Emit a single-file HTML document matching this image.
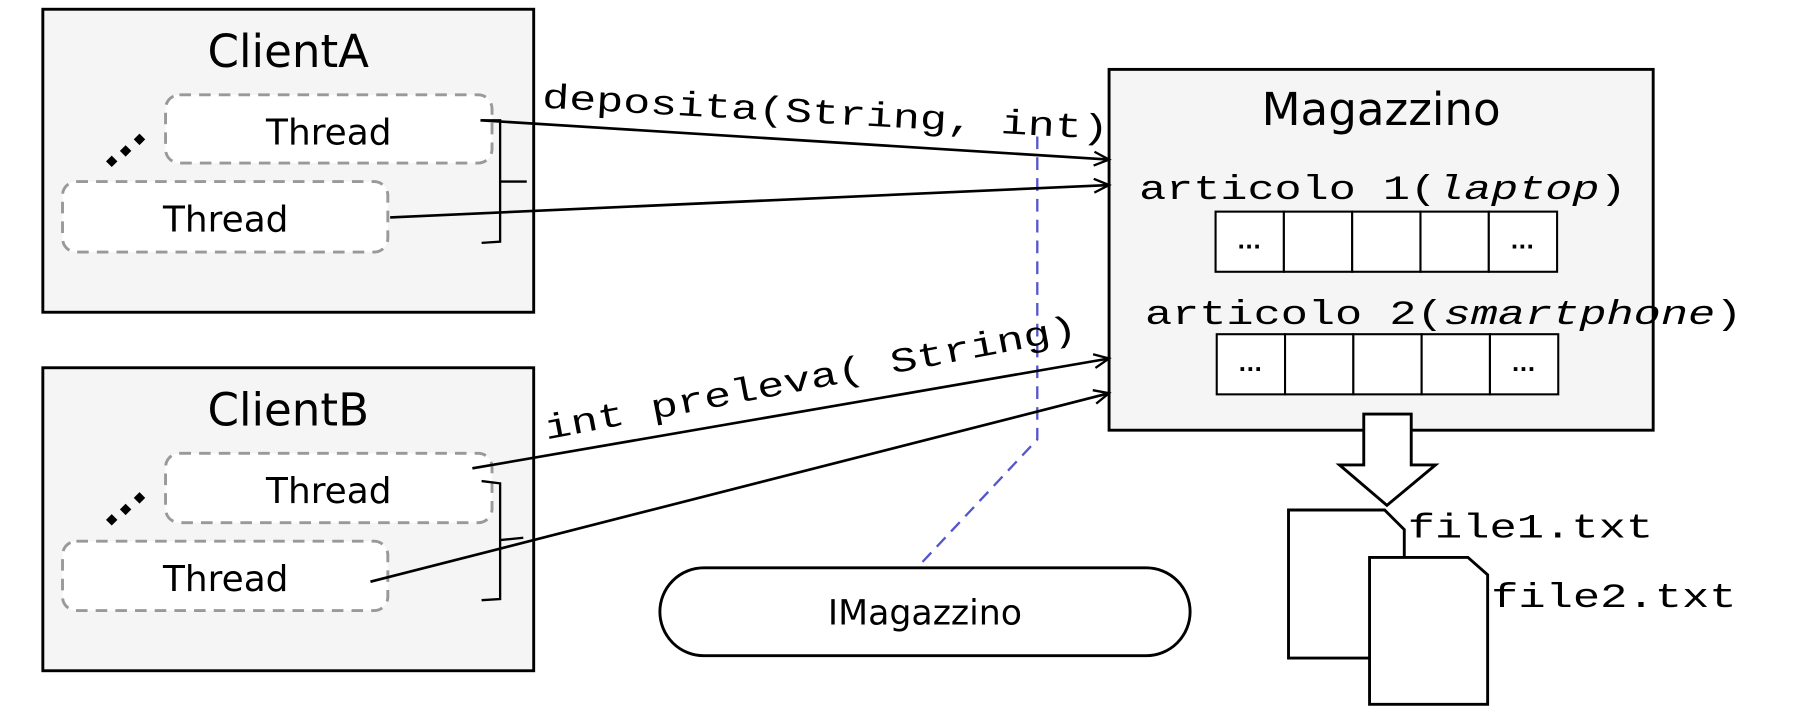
<!DOCTYPE html>
<html><head><meta charset="utf-8"><style>
html,body{margin:0;padding:0;background:#fff;}
svg{display:block;}
.sans{font-family:"DejaVu Sans","Liberation Sans",sans-serif;}
.mono{font-family:"Liberation Mono","DejaVu Sans Mono",monospace;}
</style></head><body>
<svg width="1806" height="717" viewBox="0 0 1560 620" preserveAspectRatio="none" xmlns="http://www.w3.org/2000/svg">
<defs>
<marker id="ah" markerWidth="16" markerHeight="14" refX="14" refY="7" orient="auto" markerUnits="userSpaceOnUse">
<path d="M1,1 L14,7 L1,13" fill="none" stroke="#000" stroke-width="2"/>
</marker>
</defs>
<!-- ClientA -->
<rect x="37" y="8" width="424" height="262" fill="#f5f5f5" stroke="#000" stroke-width="2.5"/>
<text class="sans" x="249" y="58" font-size="39" text-anchor="middle">ClientA</text>
<rect x="143" y="82" width="282" height="59" rx="12" fill="#fff" stroke="#999" stroke-width="2.5" stroke-dasharray="10,7"/>
<text class="sans" x="284" y="125" font-size="31" text-anchor="middle">Thread</text>
<rect x="54" y="157" width="281" height="61" rx="12" fill="#fff" stroke="#999" stroke-width="2.5" stroke-dasharray="10,7"/>
<text class="sans" x="195" y="200" font-size="31" text-anchor="middle">Thread</text>
<g fill="#000"><rect x="93" y="136" width="7" height="7" transform="rotate(45 96.5 139.5)"/><rect x="105" y="127" width="7" height="7" transform="rotate(45 108.5 130.5)"/><rect x="117" y="117" width="7" height="7" transform="rotate(45 120.5 120.5)"/></g>
<path d="M416,104 L432,104 L432,209 L416,210 M432,157 L455,157" fill="none" stroke="#000" stroke-width="2"/>
<!-- ClientB -->
<rect x="37" y="318" width="424" height="262" fill="#f5f5f5" stroke="#000" stroke-width="2.5"/>
<text class="sans" x="249" y="368" font-size="39" text-anchor="middle">ClientB</text>
<rect x="143" y="392" width="282" height="60" rx="12" fill="#fff" stroke="#999" stroke-width="2.5" stroke-dasharray="10,7"/>
<text class="sans" x="284" y="435" font-size="31" text-anchor="middle">Thread</text>
<rect x="54" y="468" width="281" height="60" rx="12" fill="#fff" stroke="#999" stroke-width="2.5" stroke-dasharray="10,7"/>
<text class="sans" x="195" y="511" font-size="31" text-anchor="middle">Thread</text>
<g fill="#000"><rect x="93" y="446" width="7" height="7" transform="rotate(45 96.5 449.5)"/><rect x="105" y="437" width="7" height="7" transform="rotate(45 108.5 440.5)"/><rect x="117" y="427" width="7" height="7" transform="rotate(45 120.5 430.5)"/></g>
<path d="M416,416 L432,418 L432,518 L416,519 M432,467 L452,465" fill="none" stroke="#000" stroke-width="2"/>
<!-- Magazzino -->
<rect x="958" y="60" width="470" height="312" fill="#f5f5f5" stroke="#000" stroke-width="2.5"/>
<text class="sans" x="1193" y="108" font-size="39" text-anchor="middle">Magazzino</text>
<text class="mono" x="984" y="172" font-size="30" textLength="421" lengthAdjust="spacingAndGlyphs">articolo 1(<tspan font-style="italic">laptop</tspan>)</text>
<g fill="#fff" stroke="#000" stroke-width="1.8">
<rect x="1050" y="183" width="59" height="52"/><rect x="1109" y="183" width="59" height="52"/><rect x="1168" y="183" width="59" height="52"/><rect x="1227" y="183" width="59" height="52"/><rect x="1286" y="183" width="59" height="52"/>
<rect x="1051" y="289" width="59" height="52"/><rect x="1110" y="289" width="59" height="52"/><rect x="1169" y="289" width="59" height="52"/><rect x="1228" y="289" width="59" height="52"/><rect x="1287" y="289" width="59" height="52"/>
</g>
<g class="sans" font-size="18" font-weight="bold" text-anchor="middle">
<text x="1079" y="215">...</text><text x="1315" y="215">...</text>
<text x="1080" y="321">...</text><text x="1316" y="321">...</text>
</g>
<text class="mono" x="989" y="280" font-size="30" textLength="516" lengthAdjust="spacingAndGlyphs">articolo 2(<tspan font-style="italic">smartphone</tspan>)</text>
<!-- big arrow -->
<path d="M1178,358 L1219,358 L1219,402 L1240,402 L1198,437 L1157,402 L1178,402 Z" fill="#fff" stroke="#000" stroke-width="2.5"/>
<!-- files -->
<path d="M1113,441 L1196,441 L1213,458 L1213,569 L1113,569 Z" fill="#fff" stroke="#000" stroke-width="2.5"/>
<path d="M1183,482 L1268,482 L1285,497 L1285,609 L1183,609 Z" fill="#fff" stroke="#000" stroke-width="2.5"/>
<text class="mono" x="1216" y="465" font-size="30" textLength="212" lengthAdjust="spacingAndGlyphs">file1.txt</text>
<text class="mono" x="1288" y="525" font-size="30" textLength="212" lengthAdjust="spacingAndGlyphs">file2.txt</text>
<!-- interface -->
<path d="M896,118 L896,380 L793,490" fill="none" stroke="#5555cc" stroke-width="2" stroke-dasharray="11,7"/>
<rect x="570" y="491" width="458" height="76" rx="38" fill="#fff" stroke="#000" stroke-width="2.5"/>
<text class="sans" x="799" y="540" font-size="30" text-anchor="middle">IMagazzino</text>
<!-- arrows -->
<line x1="415" y1="104" x2="958" y2="138" stroke="#000" stroke-width="2.3" marker-end="url(#ah)"/>
<line x1="337" y1="188" x2="958" y2="160" stroke="#000" stroke-width="2.3" marker-end="url(#ah)"/>
<line x1="408" y1="405" x2="958" y2="310" stroke="#000" stroke-width="2.3" marker-end="url(#ah)"/>
<line x1="320" y1="503" x2="958" y2="340" stroke="#000" stroke-width="2.3" marker-end="url(#ah)"/>
<text class="mono" font-size="30" transform="translate(468,93) rotate(3.2)" textLength="490" lengthAdjust="spacingAndGlyphs">deposita(String, int)</text>
<text class="mono" font-size="30" transform="translate(472,380) rotate(-10.8)" textLength="468" lengthAdjust="spacingAndGlyphs">int preleva( String)</text>
</svg>
</body></html>
